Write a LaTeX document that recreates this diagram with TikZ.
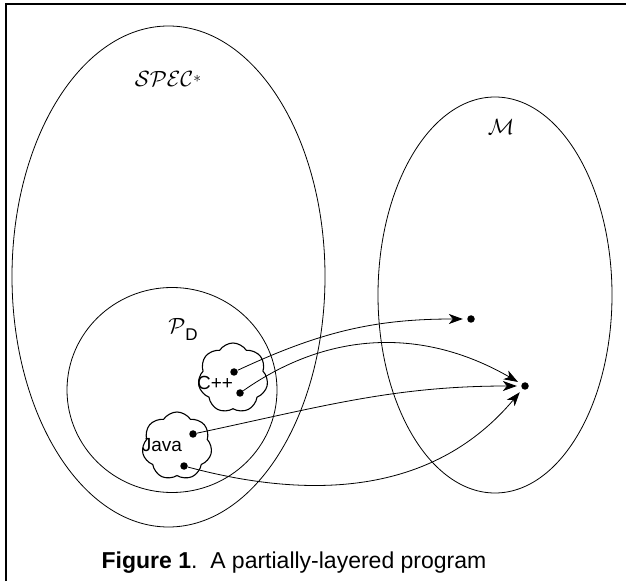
\RequirePackage{fix-cm}
\documentclass[tikz,border=0pt]{standalone}
\usepackage{fontspec}
\setmainfont{Liberation Sans}
\usetikzlibrary{shapes.geometric,shapes.symbols,arrows.meta,positioning}
\tikzset{
  region/.style={draw, ellipse, inner sep=0pt},
  blob/.style={draw, cloud, cloud puffs=7, cloud puff arc=115, aspect=1, inner sep=0pt, line width=1.1pt},
  spot/.style={circle, fill, inner sep=0pt, minimum size=7.5pt},
  maps/.style={-{Stealth[length=14pt, width=10pt, inset=4pt]}, shorten >=4pt},
  caltext/.style={font=\fontsize{22}{26}\selectfont},
  sftext/.style={font=\fontsize{19}{22}\selectfont},
}
\begin{document}
\begin{tikzpicture}[x=1pt, y=1pt, line width=0.8pt]
    \useasboundingbox (0,0) rectangle (626,581);
    \draw [line width=1.2pt] (6,0) -- (6,577) -- (626,577);
    % the sets
    \node [region, minimum width=313pt, minimum height=501pt] (spec) at (168.5,304.5) {};
    \node [region, minimum width=234pt, minimum height=396pt] (model) at (495,286) {};
    \node [region, minimum width=210pt, minimum height=205pt] (pd) at (172,191) {};
    \node [caltext] (specname) at (168,502) {$\mathcal{SPEC}\raisebox{4pt}{$\scriptstyle\ast$}$};
    \node [caltext] (modelname) at (501,454) {$\mathcal{M}$};
    \node [caltext] (pdname) at (183,252) {$\mathcal{P}$\raisebox{-7pt}{\fontsize{17}{20}\selectfont D}};
    % the two languages
    \node [blob, minimum width=70pt, minimum height=70pt] (cpp) at (233,203) {};
    \node [blob, minimum width=70pt, minimum height=68pt] (java) at (177,135) {};
    \node [sftext] (cppname) at (215,198) {C++};
    \node [sftext] (javaname) at (162,136) {Java};
    % the points
    \node [spot] (ca) at (234,209) {};
    \node [spot] (cb) at (240,188) {};
    \node [spot] (ja) at (193,147) {};
    \node [spot] (jb) at (184,115) {};
    \node [spot] (ma) at (471,262) {};
    \node [spot] (mb) at (525,195) {};
    \path (ca) edge [maps, out=25, in=180] (ma);
    \path (cb) edge [maps, out=35, in=150] (mb);
    \path (ja) edge [maps, out=12, in=180] (mb);
    \path (jb) edge [maps, out=-15, in=-130] (mb);
    \node [font=\fontsize{23}{27}\selectfont] (caption) at (294,18) {\textbf{Figure 1}.\ \ A partially-layered program};
\end{tikzpicture}
\end{document}
